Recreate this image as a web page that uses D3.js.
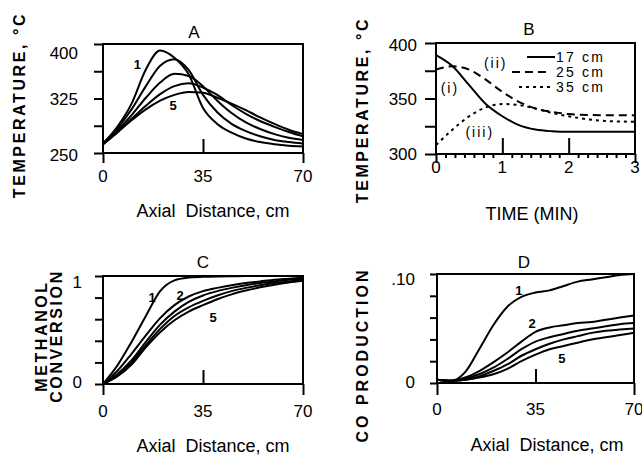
<!DOCTYPE html>
<html lang="en">
<head>
<meta charset="UTF-8">
<title>Reactor profiles</title>
<script src="https://d3js.org/d3.v7.min.js"></script>
<style>
  body { margin: 0; background: #fff; }
  text { font-family: "Liberation Sans", Arial, Helvetica, sans-serif; fill: #000; }
</style>
</head>
<body>
<div id="chart"></div>
<script>
// ---- data ----
// A: temperature vs axial distance, curves 1..5
const distA  = [0, 5, 10, 15, 20, 25, 30, 35, 40, 45, 50, 55, 60, 65, 70];
const tempA1 = [263, 286, 318, 365, 391, 381, 358, 312, 290, 278, 270, 265, 262, 260, 259];
const tempA2 = [263, 284, 310, 342, 370, 379, 364, 330, 306, 290, 280, 273, 268, 265, 263];
const tempA3 = [262, 281, 302, 326, 347, 359, 356, 342, 322, 305, 292, 283, 276, 271, 268];
const tempA4 = [262, 279, 297, 315, 331, 342, 346, 340, 330, 316, 304, 294, 286, 279, 273];
const tempA5 = [262, 278, 295, 310, 322, 330, 334, 333, 326, 318, 309, 299, 290, 282, 276];

// B: temperature vs time at three positions
const timeB  = [0, 0.25, 0.5, 0.75, 1, 1.25, 1.5, 1.75, 2, 2.5, 3];
const temp17 = [389, 379, 362, 345, 334, 326, 322, 320.5, 320, 320, 320];
const temp25 = [376, 379, 376, 367, 356, 347, 341, 338, 336, 335, 335];
const temp35 = [308, 322, 334, 342, 345, 344, 341, 337, 334, 330, 329];
const legendB = ["17 cm", "25 cm", "35 cm"];

// C: methanol conversion
const distC  = [0, 5, 10, 15, 20, 25, 30, 35, 40, 45, 50, 55, 60, 65, 70];
const convC1 = [0, 0.17, 0.39, 0.63, 0.86, 0.96, 0.985, 0.992, 0.996, 0.998, 1, 1, 1, 1, 1];
const convC2 = [0, 0.12, 0.28, 0.45, 0.61, 0.73, 0.81, 0.86, 0.89, 0.915, 0.935, 0.95, 0.965, 0.975, 0.985];
const convC3 = [0, 0.09, 0.22, 0.39, 0.55, 0.67, 0.76, 0.82, 0.86, 0.89, 0.915, 0.935, 0.95, 0.965, 0.975];
const convC4 = [0, 0.08, 0.20, 0.36, 0.51, 0.63, 0.71, 0.77, 0.82, 0.86, 0.89, 0.915, 0.935, 0.95, 0.965];
const convC5 = [0, 0.07, 0.18, 0.34, 0.48, 0.59, 0.67, 0.73, 0.785, 0.83, 0.865, 0.895, 0.92, 0.94, 0.955];

// D: CO production
const distD = [0, 5, 10, 15, 20, 25, 30, 35, 40, 45, 50, 55, 60, 65, 70];
const coD1  = [0.003, 0.002, 0.010, 0.031, 0.053, 0.070, 0.079, 0.083, 0.085, 0.089, 0.093, 0.095, 0.097, 0.099, 0.100];
const coD2  = [0.003, 0.002, 0.005, 0.011, 0.019, 0.028, 0.038, 0.047, 0.051, 0.053, 0.055, 0.056, 0.058, 0.060, 0.062];
const coD3  = [0.003, 0.002, 0.004, 0.008, 0.014, 0.022, 0.031, 0.038, 0.042, 0.045, 0.048, 0.050, 0.052, 0.054, 0.055];
const coD4  = [0.003, 0.002, 0.003, 0.006, 0.011, 0.017, 0.025, 0.031, 0.036, 0.040, 0.043, 0.046, 0.048, 0.049, 0.050];
const coD5  = [0.003, 0.002, 0.003, 0.005, 0.008, 0.013, 0.020, 0.026, 0.031, 0.034, 0.037, 0.040, 0.042, 0.044, 0.046];

// ---- drawing ----
const svg = d3.select("#chart").append("svg")
  .attr("width", 642).attr("height", 458);

// draws one framed panel and returns its scales
function panel(o) {
  const g = svg.append("g");
  const x = d3.scaleLinear().domain(o.xDomain).range([o.left, o.right]);
  const y = d3.scaleLinear().domain(o.yDomain).range([o.bottom, o.top]);

  // frame
  g.append("rect")
    .attr("x", x(o.xDomain[0])).attr("y", y(o.yDomain[1]))
    .attr("width", x(o.xDomain[1]) - x(o.xDomain[0]))
    .attr("height", y(o.yDomain[0]) - y(o.yDomain[1]))
    .attr("fill", "none").attr("stroke", "#000").attr("stroke-width", 2);

  // y ticks pointing out
  g.append("g").attr("transform", "translate(" + o.left + ",0)")
    .call(d3.axisLeft(y).tickValues(o.yTicks).tickSize(o.yTickLen).tickFormat(""))
    .call(s => s.select(".domain").remove())
    .selectAll("line").attr("stroke-width", 2);

  // end ticks on x pointing down
  g.append("g").attr("transform", "translate(0," + o.bottom + ")")
    .call(d3.axisBottom(x).tickValues(o.xEnds).tickSize(o.xEndLen).tickFormat(""))
    .call(s => s.select(".domain").remove())
    .selectAll("line").attr("stroke-width", 2);

  // middle ticks on x pointing up into the frame
  g.append("g").attr("transform", "translate(0," + o.bottom + ")")
    .call(d3.axisTop(x).tickValues(o.xMid).tickSize(o.xMidLen).tickFormat(""))
    .call(s => s.select(".domain").remove())
    .selectAll("line").attr("stroke-width", 2);

  if (o.xMinor) {
    g.append("g").attr("transform", "translate(0," + o.bottom + ")")
      .call(d3.axisBottom(x).tickValues(o.xMinor).tickSize(4).tickFormat(""))
      .call(s => s.select(".domain").remove())
      .selectAll("line").attr("stroke-width", 2);
  }

  // y tick labels
  g.selectAll(".ylab").data(o.yLabels).enter().append("text")
    .attr("x", o.left - o.yLabGap)
    .attr("y", d => y(d.v) + (d.shift || 0))
    .attr("dy", "0.36em")
    .attr("text-anchor", "end")
    .attr("font-size", 17)
    .text(d => d.t);

  // x tick labels
  g.selectAll(".xlab").data(o.xLabels).enter().append("text")
    .attr("x", d => x(d))
    .attr("y", o.xLabY)
    .attr("text-anchor", "middle")
    .attr("font-size", 17)
    .text(d => d);

  // panel letter
  g.append("text").attr("x", o.letterX).attr("y", o.letterY)
    .attr("text-anchor", "middle").attr("font-size", 17).text(o.letter);

  // x title
  g.append("text").attr("x", o.xTitleX).attr("y", o.xTitleY)
    .attr("text-anchor", "middle").attr("font-size", 18)
    .style("white-space", "pre").text(o.xTitle);

  // curves
  o.series.forEach(s => {
    const line = d3.line()
      .x((d, i) => x(s.x[i]))
      .y(d => y(d))
      .curve(d3.curveMonotoneX);
    g.append("path").datum(s.y)
      .attr("d", line)
      .attr("fill", "none").attr("stroke", "#000")
      .attr("stroke-width", 2)
      .attr("stroke-dasharray", s.dash || null);
  });

  return { g, x, y };
}

// rotated, letter-spaced axis titles
function yTitle(lines, cy, spacing) {
  lines.forEach(l => {
    svg.append("text")
      .attr("transform", "translate(" + l.x + "," + cy + ") rotate(-90)")
      .attr("text-anchor", "middle")
      .attr("font-size", 16).attr("font-weight", "bold")
      .attr("letter-spacing", spacing)
      .text(l.t);
  });
}

// Panel A
const A = panel({
  left: 103, right: 303, top: 44, bottom: 153,
  xDomain: [0, 70], yDomain: [250, 400],
  yTicks: [250, 287.5, 325, 362.5, 400], yTickLen: 9, yLabGap: 25,
  yLabels: [{ v: 400, t: "400", shift: 9 }, { v: 325, t: "325" }, { v: 250, t: "250", shift: 2 }],
  xEnds: [0, 70], xEndLen: 10, xMid: [35], xMidLen: 14,
  xLabels: [0, 35, 70], xLabY: 182,
  letter: "A", letterX: 194, letterY: 38,
  xTitle: "Axial  Distance, cm", xTitleX: 213, xTitleY: 217,
  series: [tempA1, tempA2, tempA3, tempA4, tempA5].map(v => ({ x: distA, y: v }))
});
A.g.append("text").attr("x", A.x(12)).attr("y", A.y(366)).attr("text-anchor", "middle")
  .attr("font-size", 13).attr("font-weight", "bold").text("1");
A.g.append("text").attr("x", A.x(24.5)).attr("y", A.y(309)).attr("text-anchor", "middle")
  .attr("font-size", 13).attr("font-weight", "bold").text("5");

// Panel B
const minorB = d3.range(1, 21).map(i => i / 7).filter(t => t < 3 && Math.abs(t - 1) > 0.01 && Math.abs(t - 2) > 0.01);
const B = panel({
  left: 436, right: 635, top: 43, bottom: 154,
  xDomain: [0, 3], yDomain: [300, 400],
  yTicks: [300, 325, 350, 375, 400], yTickLen: 11, yLabGap: 19,
  yLabels: [{ v: 400, t: "400", shift: 2 }, { v: 350, t: "350" }, { v: 300, t: "300" }],
  xEnds: [0, 3], xEndLen: 9, xMid: [1, 2], xMidLen: 16, xMinor: minorB,
  xLabels: [0, 1, 2, 3], xLabY: 173,
  letter: "B", letterX: 529, letterY: 35,
  xTitle: "TIME (MIN)", xTitleX: 532, xTitleY: 220,
  series: [
    { x: timeB, y: temp17 },
    { x: timeB, y: temp25, dash: "8,5" },
    { x: timeB, y: temp35, dash: "3,4" }
  ]
});
[["(ii)", 0.9, 377.5], ["(i)", 0.21, 355], ["(iii)", 0.66, 315]].forEach(a => {
  B.g.append("text").attr("x", B.x(a[1])).attr("y", B.y(a[2])).attr("text-anchor", "middle")
    .attr("font-size", 14).attr("letter-spacing", 2).text(a[0]);
});
// legend
const legDash = [null, "8,5", "3,4"];
const legX = [[527, 555], [512, 549], [519, 550]];
legendB.forEach((t, i) => {
  const ly = 57 + i * 15;
  B.g.append("line").attr("x1", legX[i][0]).attr("x2", legX[i][1])
    .attr("y1", ly).attr("y2", ly)
    .attr("stroke", "#000").attr("stroke-width", 2)
    .attr("stroke-dasharray", legDash[i]);
  B.g.append("text").attr("x", 556).attr("y", ly + 4.5)
    .attr("font-size", 14).attr("letter-spacing", 2.2).style("white-space", "pre").text(t);
});

// Panel C
const C = panel({
  left: 103, right: 303, top: 276, bottom: 384,
  xDomain: [0, 70], yDomain: [0, 1],
  yTicks: [0, 0.2, 0.4, 0.6, 0.8, 1], yTickLen: 8, yLabGap: 21,
  yLabels: [{ v: 1, t: "1", shift: 6 }, { v: 0, t: "0", shift: -2 }],
  xEnds: [0, 70], xEndLen: 11, xMid: [35], xMidLen: 14,
  xLabels: [0, 35, 70], xLabY: 417,
  letter: "C", letterX: 203, letterY: 268,
  xTitle: "Axial  Distance, cm", xTitleX: 213, xTitleY: 452,
  series: [convC1, convC2, convC3, convC4, convC5].map(v => ({ x: distC, y: v }))
});
[["1", 17.2, 0.76], ["2", 27, 0.78], ["5", 38.5, 0.574]].forEach(a => {
  C.g.append("text").attr("x", C.x(a[1])).attr("y", C.y(a[2])).attr("text-anchor", "middle")
    .attr("font-size", 13).attr("font-weight", "bold").text(a[0]);
});

// Panel D
const D = panel({
  left: 437, right: 634, top: 274, bottom: 383,
  xDomain: [0, 70], yDomain: [0, 0.1],
  yTicks: [0, 0.02, 0.04, 0.06, 0.08, 0.1], yTickLen: 7, yLabGap: 22,
  yLabels: [{ v: 0.1, t: ".10", shift: 5 }, { v: 0, t: "0", shift: -1 }],
  xEnds: [0, 70], xEndLen: 12, xMid: [35], xMidLen: 14,
  xLabels: [0, 35, 70], xLabY: 415,
  letter: "D", letterX: 524, letterY: 268,
  xTitle: "Axial  Distance, cm", xTitleX: 547, xTitleY: 451,
  series: [coD1, coD2, coD3, coD4, coD5].map(v => ({ x: distD, y: v }))
});
[["1", 29.1, 0.0807], ["2", 33.8, 0.0505], ["5", 44.4, 0.0183]].forEach(a => {
  D.g.append("text").attr("x", D.x(a[1])).attr("y", D.y(a[2])).attr("text-anchor", "middle")
    .attr("font-size", 13).attr("font-weight", "bold").text(a[0]);
});

// axis titles
yTitle([{ t: "TEMPERATURE, \u00b0C", x: 25 }], 105, 2.6);
yTitle([{ t: "TEMPERATURE, \u00b0C", x: 368 }], 110, 2.6);
yTitle([{ t: "METHANOL", x: 47 }, { t: "CONVERSION", x: 62 }], 336, 2.6);
yTitle([{ t: "CO  PRODUCTION", x: 368 }], 355, 3);
</script>
</body>
</html>
